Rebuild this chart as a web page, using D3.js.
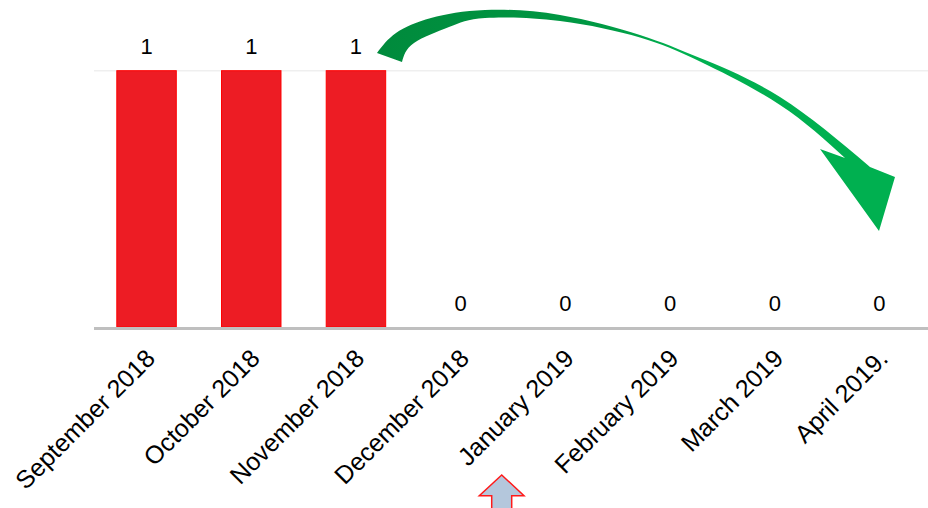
<!DOCTYPE html>
<html>
<head>
<meta charset="utf-8">
<script src="https://cdn.jsdelivr.net/npm/d3@7"></script>
<style>
  html, body { margin: 0; padding: 0; background: #fff; }
  svg { display: block; }
  text { font-family: "Liberation Sans", Arial, sans-serif; fill: #000; }
</style>
</head>
<body>
<svg id="chart" width="928" height="508"></svg>
<script>
// ---- data ----
const categories = ["September 2018", "October 2018", "November 2018", "December 2018",
                    "January 2019", "February 2019", "March 2019", "April 2019."];
const values = [1, 1, 1, 0, 0, 0, 0, 0];
const yTicks = [0, 1];

// ---- layout ----
const W = 928, H = 508;
const svg = d3.select("#chart");

const x = d3.scaleBand()
  .domain(categories)
  .range([94.2, 931.8])
  .paddingInner(0.432)
  .paddingOuter(0.216);

const y = d3.scaleLinear().domain([0, 1]).range([327, 70.7]);

// gridline at top tick
svg.append("g").selectAll("line")
  .data(yTicks.filter(d => d > 0))
  .join("line")
  .attr("x1", 94).attr("x2", W)
  .attr("y1", d => y(d)).attr("y2", d => y(d))
  .attr("stroke", "#efefef").attr("stroke-width", 1.5);

// bars
svg.append("g").selectAll("rect")
  .data(values.map((v, i) => ({ c: categories[i], v })))
  .join("rect")
  .attr("x", d => x(d.c))
  .attr("width", x.bandwidth())
  .attr("y", d => y(d.v))
  .attr("height", d => y(0) - y(d.v))
  .attr("fill", "#ed1c24")
  .attr("stroke", "#ff0000")
  .attr("stroke-width", d => d.v > 0 ? 1 : 0);

// baseline axis
const xAxis = d3.axisBottom(x).tickSize(0).tickFormat("");
const ax = svg.append("g").attr("transform", `translate(0,${y(0) + 1.5})`).call(xAxis);
ax.select(".domain").attr("stroke", "#bfbfbf").attr("stroke-width", 3)
  .attr("d", `M94,0H${W}`);

// value labels
svg.append("g").selectAll("text")
  .data(values.map((v, i) => ({ c: categories[i], v })))
  .join("text")
  .attr("x", d => x(d.c) + x.bandwidth() / 2)
  .attr("y", d => y(d.v) - 16.5)
  .attr("text-anchor", "middle")
  .attr("font-size", 22)
  .text(d => d.v);

// category labels (rotated)
svg.append("g").selectAll("text")
  .data(categories)
  .join("text")
  .attr("transform", d => `translate(${x(d) + x.bandwidth() / 2 + 10},${y(0) + 33}) rotate(-45)`)
  .attr("text-anchor", "end")
  .attr("font-size", 25)
  .text(d => d);

// ---- decorations: curved green arrow ----
const defs = svg.append("defs");
const grad = defs.append("linearGradient").attr("id", "g1")
  .attr("gradientUnits", "userSpaceOnUse")
  .attr("x1", 380).attr("y1", 40).attr("x2", 880).attr("y2", 200);
grad.append("stop").attr("offset", 0).attr("stop-color", "#008a3c");
grad.append("stop").attr("offset", 0.4).attr("stop-color", "#009a44");
grad.append("stop").attr("offset", 0.55).attr("stop-color", "#00b050");
grad.append("stop").attr("offset", 1).attr("stop-color", "#00b050");

const outer = [[377,53],[396,33],[431,18],[485,10],[560,15],[640,35],[700,58],[780,97],[870,167]];
const inner = [[845,158],[780,105],[700,61.5],[640,37.5],[560,21],[485,18],[449,27],[414,43],[402,62]];
const edge = d3.line().curve(d3.curveNatural);
const arrowPath = edge(outer) + "L895,177L879,231L820,149L845,158" +
  edge(inner).replace(/^M[^CL]*/, "") + "Z";
svg.append("path").attr("d", arrowPath).attr("fill", "url(#g1)");

// ---- decoration: block up arrow at bottom ----
svg.append("path")
  .attr("d", "M501.7,475L479.3,495.7H491.7V510H511.7V495.7H524Z")
  .attr("fill", "#b4c7dc")
  .attr("stroke", "#ff1a1a")
  .attr("stroke-width", 1.5);
</script>
</body>
</html>
